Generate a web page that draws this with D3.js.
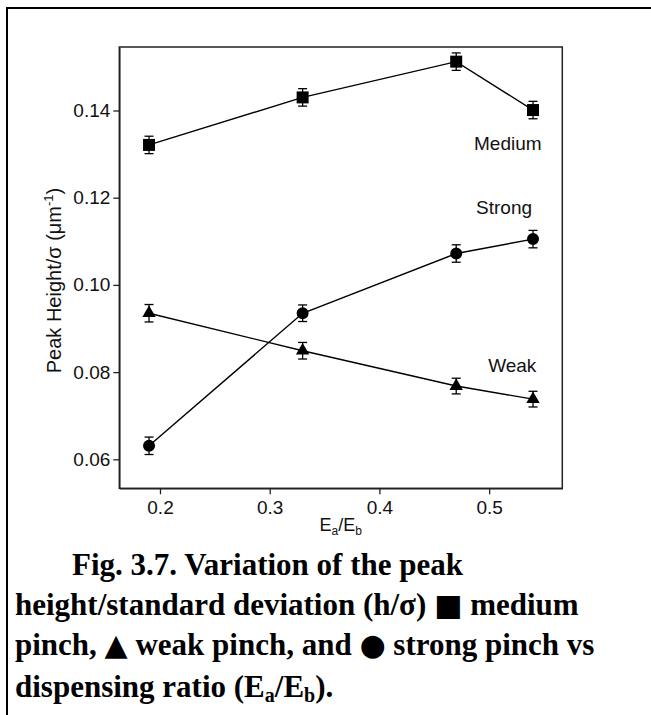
<!DOCTYPE html>
<html lang="en">
<head>
<meta charset="UTF-8">
<title>Fig. 3.7 Peak height / standard deviation</title>
<script src="https://d3js.org/d3.v7.min.js"></script>
<style>
  body { margin: 0; background: #fff; }
  svg text { font-family: "Liberation Sans", Arial, sans-serif; fill: #111; }
  .caption text { font-family: "Liberation Serif", "Times New Roman", serif; font-weight: bold; fill: #000; }
</style>
</head>
<body>
<div id="chart"></div>
<script>
// dispensing ratio Ea/Eb
const ratios = [0.19, 0.33, 0.47, 0.54];

// peak height / sigma (um^-1)
const medium = [0.1321, 0.1430, 0.1512, 0.1401];
const strong = [0.0631, 0.0935, 0.1072, 0.1105];
const weak   = [0.0935, 0.0849, 0.0768, 0.0738];

// error bar half widths
const errMedium = [0.0020, 0.0020, 0.0020, 0.0020];
const errStrong = [0.0020, 0.0019, 0.0020, 0.0020];
const errWeak   = [0.0020, 0.0019, 0.0018, 0.0018];

const xTicks = [0.2, 0.3, 0.4, 0.5];
const yTicks = [0.06, 0.08, 0.10, 0.12, 0.14];

const seriesNames = ["Medium", "Strong", "Weak"];

const width = 651;
const height = 715;
const margin = {left: 119.3, right: 651 - 562.3, top: 47, bottom: 715 - 488.3};

const svg = d3.select("#chart").append("svg")
    .attr("width", width)
    .attr("height", height);

// outer frame (table cell)
svg.append("rect")
    .attr("x", 7).attr("y", 8)
    .attr("width", 700).attr("height", 800)
    .attr("fill", "none")
    .attr("stroke", "#000")
    .attr("stroke-width", 2);

const x = d3.scaleLinear()
    .domain([0.1629, 0.5667])
    .range([margin.left, width - margin.right]);

const y = d3.scaleLinear()
    .domain([0.05335, 0.15456])
    .range([height - margin.bottom, margin.top]);

// plot box
svg.append("rect")
    .attr("x", margin.left).attr("y", margin.top)
    .attr("width", width - margin.left - margin.right)
    .attr("height", height - margin.top - margin.bottom)
    .attr("fill", "none")
    .attr("stroke", "#222")
    .attr("stroke-width", 1.5);

const xAxis = svg.append("g")
    .attr("transform", "translate(0," + (height - margin.bottom) + ")")
    .call(d3.axisBottom(x).tickValues(xTicks).tickSize(6).tickSizeOuter(0)
        .tickPadding(6).tickFormat(d3.format(".1f")));

const yAxis = svg.append("g")
    .attr("transform", "translate(" + margin.left + ",0)")
    .call(d3.axisLeft(y).tickValues(yTicks).tickSize(6).tickSizeOuter(0)
        .tickPadding(3).tickFormat(d3.format(".2f")));

[xAxis, yAxis].forEach(g => {
    g.select(".domain").attr("stroke", "#222").attr("stroke-width", 1.5);
    g.selectAll(".tick line").attr("stroke", "#222").attr("stroke-width", 1.3);
    g.selectAll(".tick text")
        .attr("font-family", "Liberation Sans, Arial, sans-serif")
        .attr("font-size", 19)
        .attr("fill", "#111");
});

// axis titles
const xTitle = svg.append("text")
    .attr("x", (margin.left + width - margin.right) / 2)
    .attr("y", 531)
    .attr("text-anchor", "middle")
    .attr("font-size", 18);
xTitle.append("tspan").text("E");
xTitle.append("tspan").attr("font-size", 12).attr("dy", 4).text("a");
xTitle.append("tspan").attr("dy", -4).text("/E");
xTitle.append("tspan").attr("font-size", 12).attr("dy", 4).text("b");

const yTitle = svg.append("text")
    .attr("transform", "translate(60.5,280.5) rotate(-90)")
    .attr("text-anchor", "middle")
    .attr("font-size", 20);
yTitle.append("tspan").text("Peak Height/σ   (μm");
yTitle.append("tspan").attr("font-size", 13).attr("dy", -8).text("-1");
yTitle.append("tspan").attr("dy", 8).text(")");

// series
const series = [
    {name: seriesNames[0], values: medium, errs: errMedium, symbol: d3.symbolSquare, size: 144},
    {name: seriesNames[1], values: strong, errs: errStrong, symbol: d3.symbolCircle, size: 113},
    {name: seriesNames[2], values: weak,   errs: errWeak,   symbol: d3.symbolTriangle, size: 78}
];

const line = d3.line()
    .x((d, i) => x(ratios[i]))
    .y(d => y(d));

series.forEach(s => {
    const g = svg.append("g");

    g.append("path")
        .attr("d", line(s.values))
        .attr("fill", "none")
        .attr("stroke", "#000")
        .attr("stroke-width", 1.4);

    const pts = s.values.map((v, i) => ({x: ratios[i], v: v, e: s.errs[i]}));

    const eb = g.selectAll(".err").data(pts).enter().append("g");
    eb.append("line")
        .attr("x1", d => x(d.x)).attr("x2", d => x(d.x))
        .attr("y1", d => y(d.v - d.e)).attr("y2", d => y(d.v + d.e))
        .attr("stroke", "#000").attr("stroke-width", 1.3);
    [-1, 1].forEach(sign => {
        eb.append("line")
            .attr("x1", d => x(d.x) - 4.5).attr("x2", d => x(d.x) + 4.5)
            .attr("y1", d => y(d.v + sign * d.e)).attr("y2", d => y(d.v + sign * d.e))
            .attr("stroke", "#000").attr("stroke-width", 1.3);
    });

    g.selectAll(".mark").data(pts).enter().append("path")
        .attr("transform", d => "translate(" + x(d.x) + "," + y(d.v) + ")")
        .attr("d", d3.symbol().type(s.symbol).size(s.size))
        .attr("fill", "#000");
});

// series labels, placed in data coordinates
const labelX = [0.4862, 0.4881, 0.4991];
const labelY = [0.1310, 0.1162, 0.0800];
svg.selectAll(".series-label").data(seriesNames).enter().append("text")
    .attr("x", (d, i) => x(labelX[i]))
    .attr("y", (d, i) => y(labelY[i]))
    .attr("font-size", 19)
    .text(d => d);

// caption
const cap = svg.append("g").attr("class", "caption");
const capSize = 31;
// [text, kind]: kind "sub" = subscript, "sym" = legend glyph
const capLines = [
    {x: 72, y: 575, parts: [["Fig. 3.7. Variation of the peak"]]},
    {x: 15, y: 615, parts: [["height/standard deviation (h/σ) "], ["■", "sym"], [" medium"]]},
    {x: 15, y: 655, parts: [["pinch, "], ["▲", "sym"], [" weak pinch, and "], ["●", "sym"], [" strong pinch vs"]]},
    {x: 15, y: 697, parts: [["dispensing ratio (E"], ["a", "sub"], ["/E"], ["b", "sub"], [")."]]}
];
capLines.forEach(l => {
    const t = cap.append("text")
        .attr("x", l.x).attr("y", l.y)
        .attr("font-size", capSize);
    l.parts.forEach((p, k) => {
        const prevSub = k > 0 && l.parts[k - 1][1] === "sub";
        const ts = t.append("tspan").text(p[0]);
        if (p[1] === "sub") ts.attr("font-size", 20).attr("dy", 5);
        else if (prevSub) ts.attr("dy", -5);
        if (p[1] === "sym") ts.attr("font-family", "DejaVu Sans").attr("font-size", 30);
    });
});
</script>
</body>
</html>
